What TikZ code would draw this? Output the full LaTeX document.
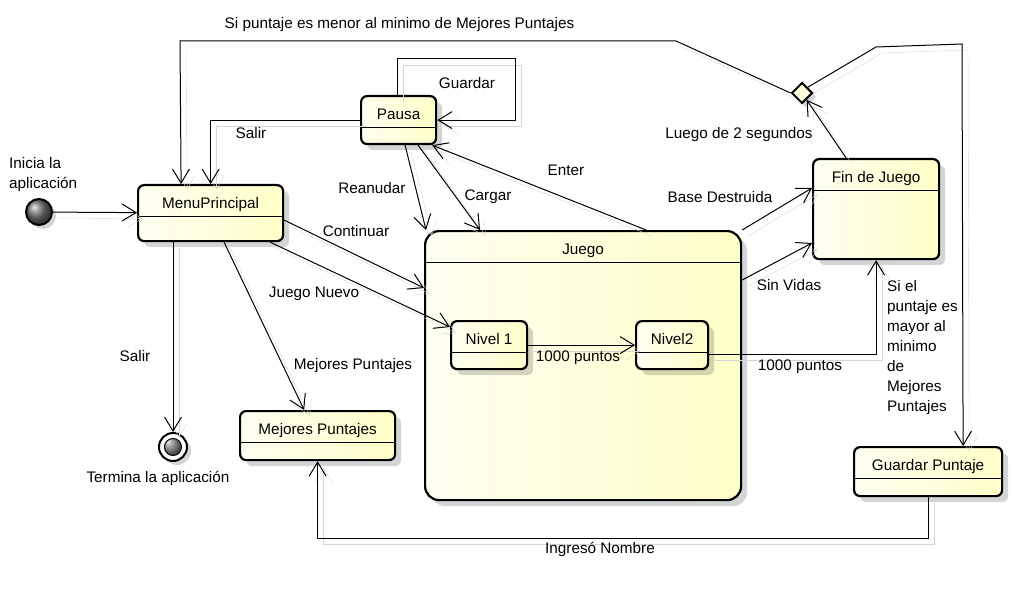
\documentclass[tikz,border=0pt]{standalone}
\usepackage{fontspec}
\setmainfont{Liberation Sans}
\usetikzlibrary{arrows.meta,shapes.geometric,shadows}
\definecolor{stlight}{HTML}{FFFFF2}
\definecolor{stdark}{HTML}{FFFFC8}
\definecolor{shadowgray}{HTML}{D6D6D6}
\tikzset{
  state/.style  ={draw=black,line width=2.2pt,rounded corners=6pt,
                  left color=stlight,right color=stdark,
                  inner xsep=4pt,inner ysep=0pt,text height=23pt,anchor=north west,
                  drop shadow={shadow xshift=6pt,shadow yshift=-6pt,fill=black,opacity=.17},
                  path picture={\draw[line width=1pt]
                    ([yshift=-31pt]path picture bounding box.north west) --
                    ([yshift=-31pt]path picture bounding box.north east);}},
  pstart/.style ={circle,draw=black,line width=2pt,ball color=black!55,
                  minimum size=26pt,inner sep=0pt,
                  drop shadow={shadow xshift=4pt,shadow yshift=-4pt,fill=black,opacity=.17}},
  pend/.style   ={circle,draw=black,line width=2pt,fill=white,minimum size=28pt,inner sep=0pt,
                  drop shadow={shadow xshift=4pt,shadow yshift=-4pt,fill=black,opacity=.17},
                  path picture={\shadedraw[ball color=black!55,line width=1pt]
                    (path picture bounding box.center) circle (8.5pt);}},
  pchoice/.style={diamond,draw=black,line width=2pt,fill=stdark!60!stlight,aspect=1,
                  minimum width=21pt,minimum height=21pt,inner sep=0pt,
                  drop shadow={shadow xshift=4pt,shadow yshift=-4pt,fill=black,opacity=.17}},
  trans/.style  ={draw=black,line width=1pt,-{Straight Barb[length=14pt,width=17pt]},
                  preaction={draw=shadowgray,transform canvas={shift={(6pt,-6pt)}}}},
  lbl/.style    ={inner sep=0pt}
}
\begin{document}
\begin{tikzpicture}[x=1pt,y=-1pt,every node/.style={font=\fontsize{15.3}{20}\selectfont}]
  \useasboundingbox (0,0) rectangle (1014,596);
  % pseudo states
  \node[pstart] (init) at (39,212) {};
  \node[pend] (final) at (173,447) {};
  \node[pchoice] (dec) at (802,93) {};
  % states
  \node[state,minimum width=145pt,text depth=33pt] (menu) at (137,184) {MenuPrincipal};
  \node[state,minimum width=75pt,text depth=25pt] (pausa) at (360,95) {Pausa};
  \node[state,minimum width=316pt,text depth=246pt,rounded corners=14pt] (juego) at (424,230) {Juego};
  \node[state,minimum width=76pt,text depth=25pt] (niv1) at (450,320) {Nivel 1};
  \node[state,minimum width=72pt,text depth=25pt] (niv2) at (635,320) {Nivel2};
  \node[state,minimum width=155pt,text depth=26pt] (mejores) at (239,410) {Mejores Puntajes};
  \node[state,minimum width=126pt,text depth=77pt] (fin) at (812,158) {Fin de Juego};
  \node[state,minimum width=148pt,text depth=26pt] (guardar) at (853,446) {Guardar Puntaje};
  % transitions
  \draw[trans] (init) -- (menu);
  \draw[trans] (dec.west) -- (676,41) -- (180,41) -- ([xshift=-29.5pt]menu.north);
  \draw[trans] (dec.north east) -- (876,47) -- (962,44) -- ([xshift=35pt]guardar.north);
  \draw[trans] (pausa.west) -| (menu.north);
  \draw[trans] ([xshift=-1.5pt]pausa.north) -- ++(0,-36) -| ([xshift=78pt]pausa.east) -- (pausa.east);
  \draw[trans] ([xshift=6.5pt]pausa.south) -- ([xshift=2pt]juego.north west);
  \draw[trans] ([xshift=19.5pt]pausa.south) -- ([xshift=56pt]juego.north west);
  \draw[trans] ([xshift=63pt]juego.north) -- ([xshift=-5pt]pausa.south east);
  \draw[trans] ([yshift=-7pt]menu.east) -- ([yshift=-58pt]juego.north west);
  \draw[trans] ([xshift=-14pt]menu.south east) -- ([yshift=-7pt]niv1.north west);
  \draw[trans] ([xshift=13.5pt]menu.south) -- ([xshift=-13.5pt]mejores.north);
  \draw[trans] (menu.south -| final) -- (final);
  \draw[trans] (niv1) -- (niv2);
  \draw[trans] ([yshift=-9pt]niv2.east) -| (fin.south);
  \draw[trans] (juego.north east) -- ([yshift=-30pt]fin.north west);
  \draw[trans] ([yshift=-50pt]juego.north east) -- ([yshift=-85pt]fin.north west);
  \draw[trans] ([xshift=-30pt]fin.north) -- (dec);
  \draw[trans] (guardar.south) -- ++(0,41) -| (mejores.south);
  % labels
  \node[lbl] (l-top) at (399.5,25) {Si puntaje es menor al minimo de Mejores Puntajes};
  \node[lbl] (l-guardar) at (467,83) {Guardar};
  \node[lbl] (l-salir1) at (251,133) {Salir};
  \node[lbl,align=left,anchor=west] (l-inicia) at (9,175) {Inicia la\\aplicación};
  \node[lbl] (l-reanudar) at (372,188) {Reanudar};
  \node[lbl] (l-cargar) at (488,197) {Cargar};
  \node[lbl] (l-continuar) at (356,231) {Continuar};
  \node[lbl] (l-enter) at (566,170) {Enter};
  \node[lbl] (l-luego) at (739,135) {Luego de 2 segundos};
  \node[lbl] (l-base) at (720,197) {Base Destruida};
  \node[lbl] (l-sinvidas) at (789,285) {Sin Vidas};
  \node[lbl] (l-mil1) at (578,358) {1000 puntos};
  \node[lbl] (l-mil2) at (800,367) {1000 puntos};
  \node[lbl,align=left,anchor=west] (l-mayor) at (887,347.5)
    {Si el\\puntaje es\\mayor al\\minimo\\de\\Mejores\\Puntajes};
  \node[lbl] (l-nuevo) at (314,294) {Juego Nuevo};
  \node[lbl] (l-salir2) at (135,356) {Salir};
  \node[lbl] (l-mejores) at (353,366) {Mejores Puntajes};
  \node[lbl] (l-termina) at (158,478) {Termina la aplicación};
  \node[lbl] (l-ingreso) at (600,549) {Ingresó Nombre};
\end{tikzpicture}
\end{document}
